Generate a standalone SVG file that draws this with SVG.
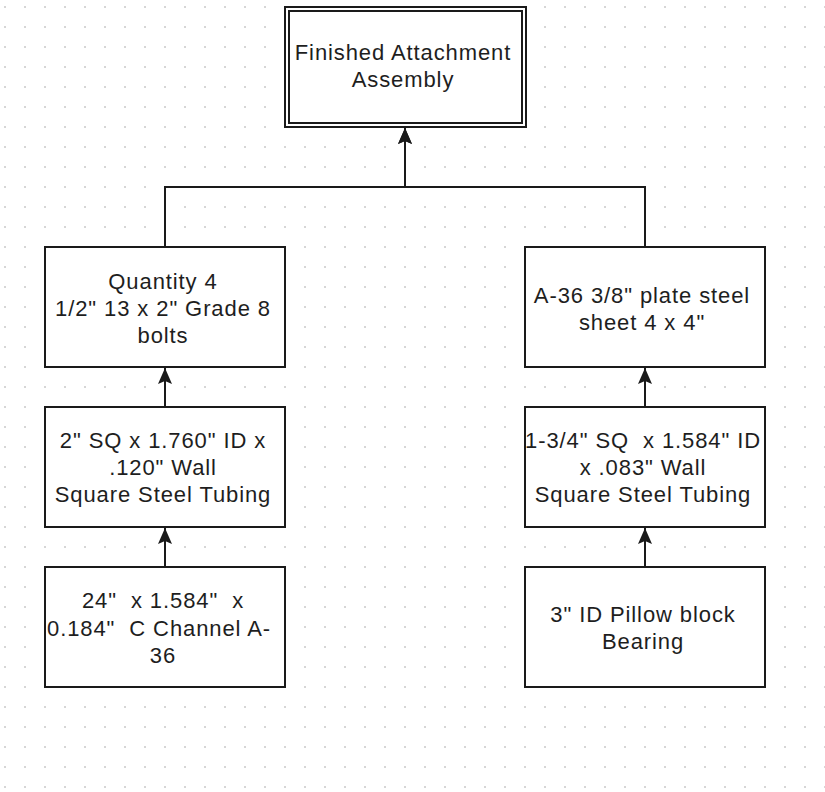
<svg xmlns="http://www.w3.org/2000/svg" width="825" height="792" viewBox="0 0 825 792">
  <style>
    .box { fill: #ffffff; stroke: #1a1a1a; stroke-width: 2; }
    .edge { fill: none; stroke: #1a1a1a; stroke-width: 2; }
    .lbl { font-family: "Liberation Sans", Arial, sans-serif; font-size: 22px; letter-spacing: 0.9px; fill: #1e1e1e; text-anchor: middle; white-space: pre; }
  </style>
  <defs>
    <pattern id="grid" x="0" y="0" width="20" height="20" patternUnits="userSpaceOnUse">
      <rect x="4" y="6" width="2" height="2" fill="#d6d6d6"/>
    </pattern>
    <marker id="arrow" viewBox="0 0 16 16" refX="16" refY="8" markerWidth="16" markerHeight="16" markerUnits="userSpaceOnUse" orient="auto">
      <path d="M0,1 L16,8 L0,15 L3,8 Z" fill="#1a1a1a"/>
    </marker>
  </defs>
  <rect x="0" y="0" width="825" height="792" fill="#ffffff"/>
  <rect x="0" y="0" width="825" height="792" fill="url(#grid)"/>

  <g id="connectors">
    <path class="edge" d="M165 247 V187 H405 V128" marker-end="url(#arrow)"/>
    <path class="edge" d="M645 247 V187 H405 V128" marker-end="url(#arrow)"/>
    <path class="edge" d="M165 407 V368" marker-end="url(#arrow)"/>
    <path class="edge" d="M645 407 V368" marker-end="url(#arrow)"/>
    <path class="edge" d="M165 567 V528" marker-end="url(#arrow)"/>
    <path class="edge" d="M645 567 V528" marker-end="url(#arrow)"/>
  </g>

  <g id="finished-assembly">
    <rect class="box" x="285" y="7" width="241" height="120"/>
    <rect class="box" x="289" y="11" width="233" height="112"/>
    <text class="lbl" x="403" y="60">Finished Attachment</text>
    <text class="lbl" x="403" y="87">Assembly</text>
  </g>

  <g id="bolts">
    <rect class="box" x="45" y="247" width="240" height="120"/>
    <text class="lbl" x="163" y="289">Quantity 4</text>
    <text class="lbl" x="163" y="316">1/2" 13 x 2" Grade 8</text>
    <text class="lbl" x="163" y="343">bolts</text>
  </g>

  <g id="plate-steel">
    <rect class="box" x="525" y="247" width="240" height="120"/>
    <text class="lbl" x="642" y="303">A-36 3/8" plate steel</text>
    <text class="lbl" x="642" y="330">sheet 4 x 4"</text>
  </g>

  <g id="tubing-2in">
    <rect class="box" x="45" y="407" width="240" height="120"/>
    <text class="lbl" x="163" y="448">2" SQ x 1.760" ID x</text>
    <text class="lbl" x="163" y="475">.120" Wall</text>
    <text class="lbl" x="163" y="502">Square Steel Tubing</text>
  </g>

  <g id="tubing-134in">
    <rect class="box" x="525" y="407" width="240" height="120"/>
    <text class="lbl" x="643" y="448">1-3/4" SQ  x 1.584" ID</text>
    <text class="lbl" x="643" y="475">x .083" Wall</text>
    <text class="lbl" x="643" y="502">Square Steel Tubing</text>
  </g>

  <g id="c-channel">
    <rect class="box" x="45" y="567" width="240" height="120"/>
    <text class="lbl" x="163" y="608">24"  x 1.584"  x</text>
    <text class="lbl" x="159" y="636">0.184"  C Channel A-</text>
    <text class="lbl" x="163" y="663">36</text>
  </g>

  <g id="pillow-block">
    <rect class="box" x="525" y="567" width="240" height="120"/>
    <text class="lbl" x="643" y="622">3" ID Pillow block</text>
    <text class="lbl" x="643" y="649">Bearing</text>
  </g>
</svg>
